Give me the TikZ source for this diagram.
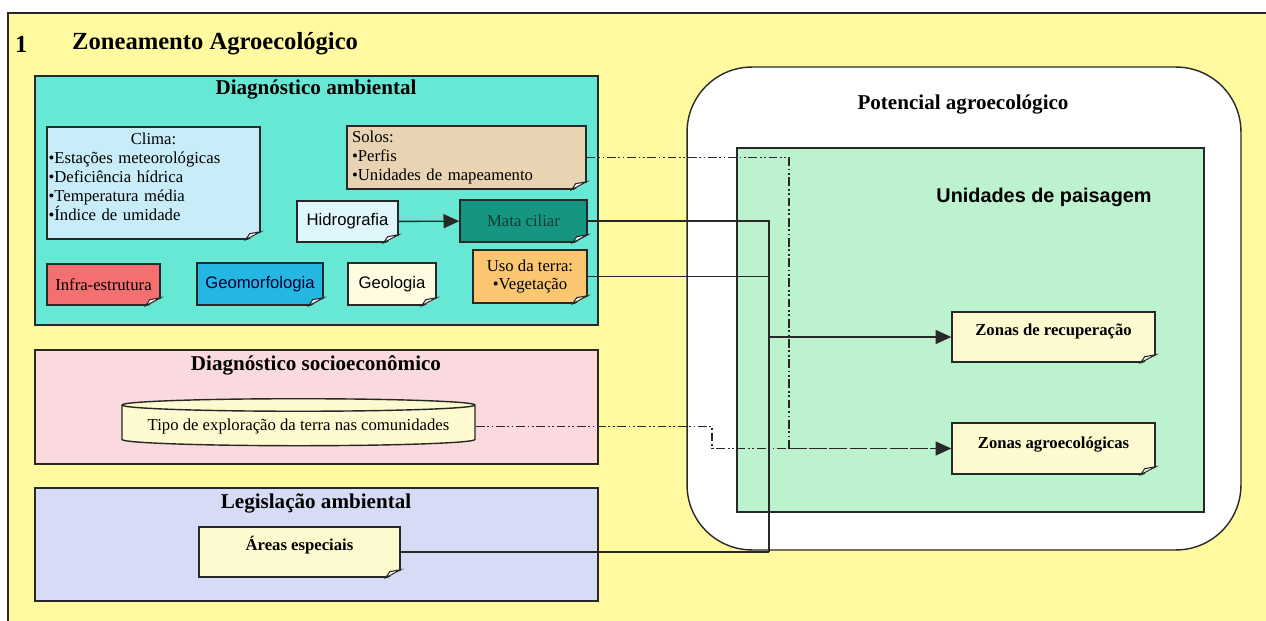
\documentclass[tikz,border=0pt]{standalone}
\usepackage{fontspec}
\setmainfont{Liberation Serif}
\setsansfont{Liberation Sans}
\usetikzlibrary{arrows.meta,shapes.geometric}

\definecolor{bgyellow}{RGB}{255,250,160}
\definecolor{ambteal}{RGB}{102,232,212}
\definecolor{climablue}{RGB}{200,236,248}
\definecolor{solostan}{RGB}{232,212,178}
\definecolor{hidroblue}{RGB}{222,246,252}
\definecolor{matateal}{RGB}{22,150,128}
\definecolor{matatext}{RGB}{20,60,50}
\definecolor{infrared}{RGB}{242,112,112}
\definecolor{geoblue}{RGB}{38,182,226}
\definecolor{geolcream}{RGB}{255,252,226}
\definecolor{usoorange}{RGB}{250,198,112}
\definecolor{socpink}{RGB}{250,218,222}
\definecolor{legblue}{RGB}{214,220,246}
\definecolor{noteyellow}{RGB}{252,250,206}
\definecolor{paisgreen}{RGB}{188,242,206}
\definecolor{linegray}{RGB}{40,40,40}

\begin{document}
\begin{tikzpicture}[x=0.02cm, y=-0.02cm, font=\fontsize{9.5}{10.8}\selectfont,
    >={Triangle[length=9pt,width=8pt]},
    dims/.style 2 args={minimum width=#1, minimum height=#2},
    panel/.style={draw=linegray, line width=0.8pt, fill=#1, inner sep=0pt},
    note/.style={draw=linegray, line width=0.8pt, fill=#1, inner sep=0pt},
    head/.style={font=\fontsize{12}{14}\selectfont\bfseries},
    zone/.style={note=noteyellow, align=center, font=\fontsize{9.5}{10.8}\selectfont\bfseries},
    fold/.style={fill=white, draw=linegray, line width=0.6pt},
    link/.style={draw=linegray, line width=0.8pt},
    linkdd/.style={link, dash pattern=on 5pt off 1.5pt on 1pt off 1.5pt on 1pt off 1.5pt}]
    \useasboundingbox (0,0) rectangle (1266,621);
    % page frame
    \fill[bgyellow] (8,13) rectangle (1266,621);
    \draw[link] (8,621) -- (8,13) -- (1266,13);
    \node[anchor=west, font=\fontsize{14}{16}\selectfont\bfseries] (num) at (9,44) {1};
    \node[anchor=west, font=\fontsize{14}{16}\selectfont\bfseries] (title) at (66,44) {Zoneamento Agroecológico};

    % left panels
    \node[panel=ambteal, dims={11.26cm}{4.98cm}] (amb) at (316.5,200.5) {};
    \node[head] (ambT) at (316,90) {Diagnóstico ambiental};
    \node[panel=socpink, dims={11.26cm}{2.28cm}] (socio) at (316.5,407) {};
    \node[head] (socioT) at (316,365) {Diagnóstico socioeconômico};
    \node[panel=legblue, dims={11.26cm}{2.26cm}] (legis) at (316.5,544.5) {};
    \node[head] (legisT) at (316,503) {Legislação ambiental};

    % right panel
    \node[panel=white, rounded corners=1.3cm, dims={11.08cm}{9.66cm}] (pot) at (964,308.5) {};
    \node[head] (potT) at (963,105) {Potencial agroecológico};
    \node[panel=paisgreen, dims={9.34cm}{7.28cm}] (pais) at (970.5,330) {};
    \node[font=\fontsize{11.3}{13}\selectfont\sffamily\bfseries] (paisT) at (1044,197) {Unidades de paisagem};

    % notes
    \node[note=climablue, dims={4.26cm}{2.24cm}, text width=4.2cm, align=left] (clima) at (153.5,183)
        {\makebox[4.2cm]{Clima:}\\•Estações meteorológicas\\•Deficiência hídrica\\•Temperatura média\\•Índice de umidade\\[-4pt]\mbox{}};
    \node[note=solostan, dims={4.78cm}{1.26cm}, text width=4.58cm, align=left] (solos) at (466.5,157.5)
        {Solos:\\•Perfis\\•Unidades de mapeamento};
    \node[note=hidroblue, dims={2.02cm}{0.82cm}, font=\fontsize{9.5}{10.8}\sffamily] (hidro) at (347.5,221.5) {Hidrografia};
    \node[note=matateal, dims={2.54cm}{0.84cm}, text=matatext] (mata) at (523.5,221) {Mata ciliar};
    \node[note=infrared, dims={2.26cm}{0.82cm}] (infra) at (103.5,284.5) {Infra-estrutura};
    \node[note=geoblue, dims={2.52cm}{0.84cm}, font=\fontsize{9.5}{10.8}\sffamily, text=black!80!blue] (geomorf) at (260,284) {Geomorfologia};
    \node[note=geolcream, dims={1.76cm}{0.84cm}, font=\fontsize{9.5}{10.8}\sffamily] (geol) at (392,284) {Geologia};
    \node[note=usoorange, dims={2.28cm}{1.06cm}, align=center] (uso) at (530,276.5) {Uso da terra:\\•Vegetação};
    \node[cylinder, shape border rotate=90, aspect=0.04, draw=linegray, line width=0.8pt, fill=noteyellow,
        minimum width=7.06cm, minimum height=0.94cm] (tipo) at (298.5,426.5) {Tipo de exploração da terra nas comunidades};
    \node[zone, dims={4.02cm}{1cm}] (areas) at (299.5,552) {Áreas especiais\\[-0.8pt]\mbox{}};
    \node[zone, dims={4.06cm}{1cm}] (recup) at (1053.5,337) {Zonas de recuperação\\[-2pt]\mbox{}};
    \node[zone, dims={4.06cm}{1.02cm}] (agro) at (1053.5,448.5) {Zonas agroecológicas\\[-4pt]\mbox{}};

    % folded corners
    \foreach \n/\bg in {clima/ambteal, solos/ambteal, hidro/ambteal, mata/ambteal, infra/ambteal,
        geomorf/ambteal, geol/ambteal, uso/ambteal, areas/legblue, recup/paisgreen, agro/paisgreen} {
        \fill[\bg] ([shift={(-15,1.5)}]\n.south east) -- ([shift={(1.5,1.5)}]\n.south east) -- ([shift={(1.5,-8)}]\n.south east) -- cycle;
        \filldraw[fold] ([shift={(-15,0)}]\n.south east) -- ([shift={(0,-8)}]\n.south east) -- ([shift={(-11,-6)}]\n.south east) -- cycle;
    }

    % connectors
    \coordinate (bus) at (769,552);
    \coordinate (jn) at (789,448.5);
    \coordinate (kn) at (712,448.5);
    \draw[link, ->] (hidro) -- (mata);
    \draw[link] (mata.east) -| (bus);
    \draw[link] (uso.east) -- (uso.east -| bus);
    \draw[link] (areas.east) -- (bus);
    \draw[link, ->] (recup.west -| bus) -- (recup.west);
    \draw[linkdd] (solos.east) -| (jn);
    \draw[linkdd] (tipo.east) -| (kn) -- (jn);
    \draw[link, ->, dash pattern=on 10pt off 1.5pt] (jn) -- (agro.west);
\end{tikzpicture}
\end{document}
